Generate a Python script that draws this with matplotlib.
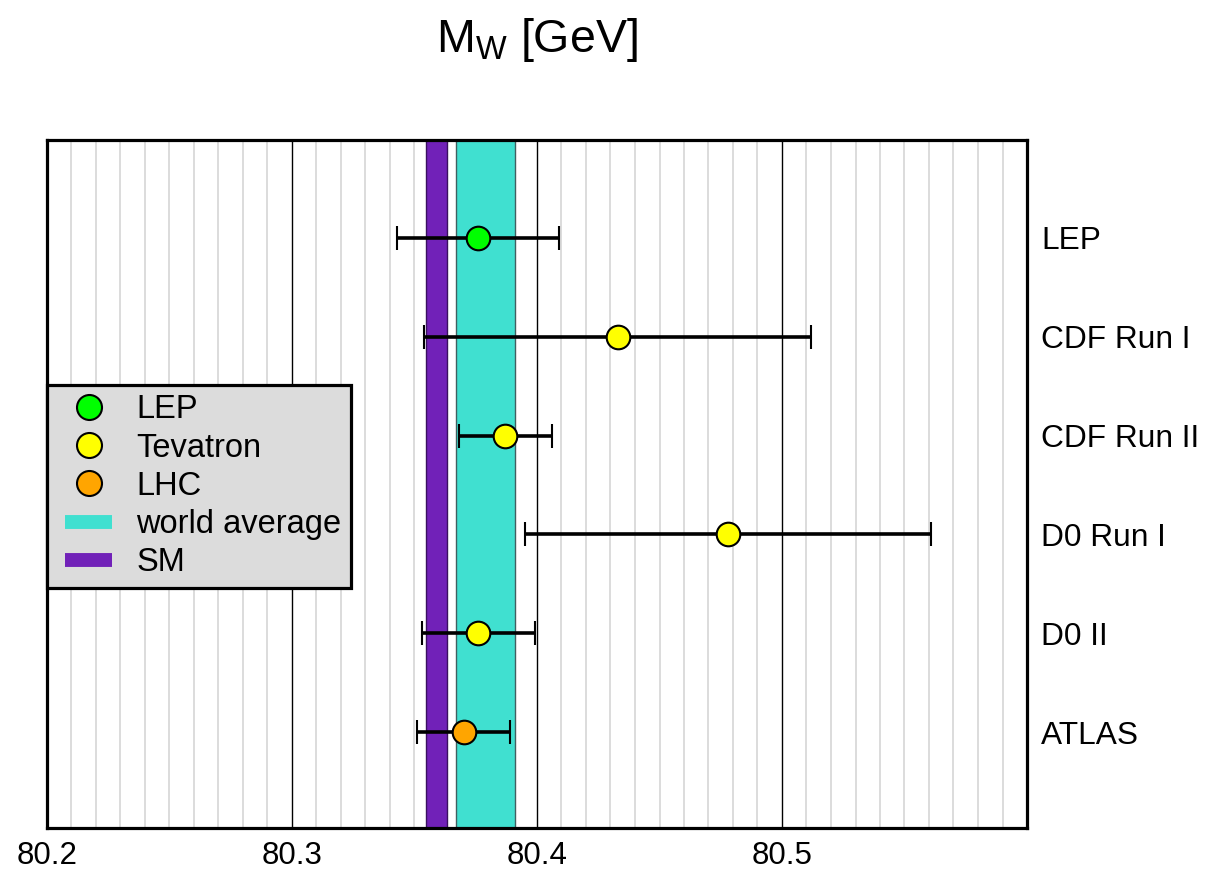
import numpy as np
import matplotlib
matplotlib.use('Agg')
import matplotlib.pyplot as plt
from matplotlib.lines import Line2D
from matplotlib.legend_handler import HandlerLine2D
from matplotlib.ticker import MultipleLocator

plt.rcParams['font.family'] = ['Liberation Sans', 'DejaVu Sans']

# measurements, top to bottom
experiments = ['LEP', 'CDF Run I', 'CDF Run II', 'D0 Run I', 'D0 II', 'ATLAS']
mass = [80.376, 80.433, 80.387, 80.478, 80.376, 80.370]
mass_err = [0.033, 0.079, 0.019, 0.083, 0.023, 0.019]
group = ['LEP', 'Tevatron', 'Tevatron', 'Tevatron', 'Tevatron', 'LHC']

group_names = ['LEP', 'Tevatron', 'LHC']
group_colors = {'LEP': '#00ff00', 'Tevatron': '#ffff00', 'LHC': '#ffa500'}

world_avg = 80.379
world_err = 0.012
sm_val = 80.359
sm_err = 0.0043

xticks = [80.2, 80.3, 80.4, 80.5]

fig = plt.figure(figsize=(12.06, 8.74), dpi=100)
ax = fig.add_axes([47/1206, 46/874, 980/1206, 688/874])

ys = np.arange(len(experiments))[::-1] + 1

# grid
ax.xaxis.set_minor_locator(MultipleLocator(0.01))
ax.set_xticks(xticks)
ax.grid(which='minor', axis='x', color='#d9d9d9', lw=1.3, zorder=0)
ax.grid(which='major', axis='x', color='black', lw=1.0, zorder=0.5)
ax.set_axisbelow(True)

# bands
ax.axvspan(sm_val - sm_err, sm_val + sm_err, color='#7121b8', ec='#3a1060', lw=1, zorder=1)
ax.axvspan(world_avg - world_err, world_avg + world_err, color='#40e0d0', ec='#406060', lw=1, zorder=1)

for y, m, e, g in zip(ys, mass, mass_err, group):
    ax.errorbar(m, y, xerr=e, fmt='o', color='black', ecolor='black',
                elinewidth=2.6, capsize=8.3, capthick=2.8,
                mfc=group_colors[g], mec='black', mew=1.5, ms=17, zorder=3)

ax.set_xlim(80.2, 80.6)
ax.set_ylim(0.03, 6.99)

ax.set_yticks(ys)
ax.set_yticklabels(experiments)
ax.yaxis.tick_right()
ax.tick_params(axis='y', length=0, pad=10, labelsize=22.8)
ax.tick_params(axis='x', which='both', length=0, pad=9, labelsize=22.5)

for sp in ax.spines.values():
    sp.set_linewidth(2.3)
    sp.set_zorder(5)

handles = [Line2D([], [], ls='none', marker='o', ms=18, mfc=group_colors[g],
                  mec='black', mew=1.5) for g in group_names]
handles += [Line2D([], [], color='#40e0d0', lw=10, solid_capstyle='butt'),
            Line2D([], [], color='#7121b8', lw=10, solid_capstyle='butt')]
labels = group_names + ['world average', 'SM']
hmap = {h: HandlerLine2D(xpad=0.26) for h in handles}
leg = ax.legend(handles, labels, loc='upper left', bbox_to_anchor=(0.0, 0.644),
                handler_map=hmap,
                fontsize=23.5, frameon=True, fancybox=False, framealpha=1,
                facecolor='#dcdcdc', edgecolor='black', borderaxespad=0,
                handlelength=1.71, handletextpad=0.74, labelspacing=0.22,
                borderpad=0.29)
leg.get_frame().set_linewidth(2.3)
leg.set_zorder(6)

fig.text(537/1206, 1 - 52/874, r'$\mathregular{M_W}$ [GeV]', fontsize=33.5,
         ha='center', va='baseline')

plt.savefig('out.png', dpi=100)
